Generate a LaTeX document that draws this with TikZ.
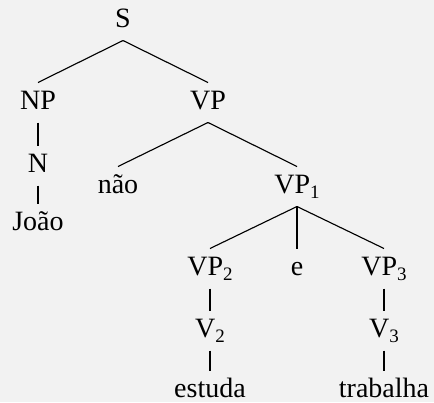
\documentclass[tikz,border=0pt]{standalone}
\usepackage{fontspec}
\setmainfont{Liberation Serif}
\definecolor{bg}{RGB}{242,242,242}
\newcommand{\subidx}[1]{\raisebox{-2pt}{\fontsize{7.6pt}{8pt}\selectfont #1}}
\begin{document}
\begin{tikzpicture}[x=0.4pt,y=-0.4pt,
  lbl/.style={anchor=base,inner xsep=1pt,inner ysep=3pt,text height=7.4pt,text depth=2.2pt,
    font=\fontsize{11.2pt}{13pt}\selectfont},
  edge/.style={line width=0.45pt}]
\fill[bg] (0,0) rectangle (434,402);
\useasboundingbox (0,0) rectangle (434,402);
\node[lbl] (S) at (123,27) {S};
\node[lbl] (NP) at (38,109) {NP};
\node[lbl] (VP) at (208,109) {VP};
\node[lbl] (N) at (38,172) {N};
\node[lbl] (nao) at (118,193) {não};
\node[lbl] (VP1) at (297,193) {VP\subidx{1}};
\node[lbl] (Joao) at (38,230) {João};
\node[lbl] (VP2) at (210,275) {VP\subidx{2}};
\node[lbl] (e) at (297,275) {e};
\node[lbl] (VP3) at (384,275) {VP\subidx{3}};
\node[lbl] (V2) at (210,337) {V\subidx{2}};
\node[lbl] (V3) at (384,337) {V\subidx{3}};
\node[lbl] (estuda) at (210,397) {estuda};
\node[lbl] (trabalha) at (384,397) {trabalha};
\draw[edge] (S.south) -- (NP.north);
\draw[edge] (S.south) -- (VP.north);
\draw[edge] (NP.south) -- (N.north);
\draw[edge] (N.south) -- (Joao.north);
\draw[edge] (VP.south) -- (nao.north);
\draw[edge] (VP.south) -- (VP1.north);
\draw[edge] (VP1.south) -- (VP2.north);
\draw[edge] (VP1.south) -- (e.north);
\draw[edge] (VP1.south) -- (VP3.north);
\draw[edge] (VP2.south) -- (V2.north);
\draw[edge] (V2.south) -- (estuda.north);
\draw[edge] (VP3.south) -- (V3.north);
\draw[edge] (V3.south) -- (trabalha.north);
\end{tikzpicture}
\end{document}
